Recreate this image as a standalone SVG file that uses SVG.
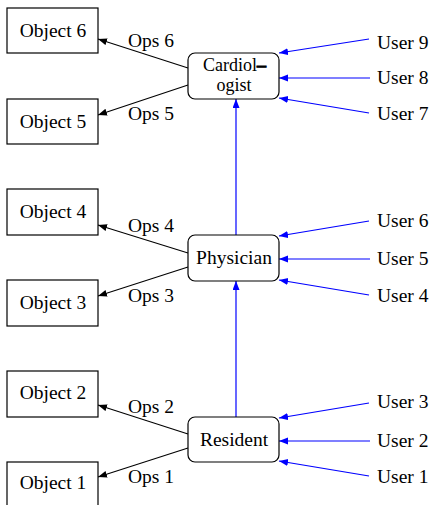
<svg xmlns="http://www.w3.org/2000/svg" width="432" height="505" viewBox="0 0 432 505">
<style>
text{font-family:"Liberation Serif","Times New Roman",serif;font-size:19.5px;fill:#000}
.obj rect{fill:#fff;stroke:#000;stroke-width:1.2}
.role rect{fill:#fff;stroke:#000;stroke-width:1.2}
.mid{text-anchor:middle}
.k{stroke:#000;stroke-width:1.1;fill:none;marker-end:url(#ak)}
.b{stroke:#0000ff;stroke-width:1.2;fill:none;marker-end:url(#ab)}
</style>
<defs>
<marker id="ak" markerUnits="userSpaceOnUse" markerWidth="10" markerHeight="8" refX="9" refY="3.5" orient="auto"><path d="M0,0 L9,3.5 L0,7 z" fill="#000"/></marker>
<marker id="ab" markerUnits="userSpaceOnUse" markerWidth="10" markerHeight="8" refX="9" refY="3.5" orient="auto"><path d="M0,0 L9,3.5 L0,7 z" fill="#0000ff"/></marker>
</defs>
<rect width="432" height="505" fill="#fff"/>
<g id="connectors">
<line class="k" x1="188" y1="68" x2="98" y2="39"/>
<line class="k" x1="188" y1="85" x2="98" y2="115"/>
<line class="k" x1="188" y1="253" x2="98" y2="225"/>
<line class="k" x1="188" y1="267" x2="98" y2="296"/>
<line class="k" x1="188" y1="434" x2="98" y2="405"/>
<line class="k" x1="188" y1="448" x2="98" y2="477"/>
<line class="b" x1="369" y1="39" x2="279" y2="53"/>
<line class="b" x1="370" y1="78" x2="279" y2="78"/>
<line class="b" x1="369" y1="113" x2="279" y2="98"/>
<line class="b" x1="369" y1="221" x2="279" y2="236"/>
<line class="b" x1="370" y1="259" x2="279" y2="259"/>
<line class="b" x1="369" y1="295" x2="279" y2="280"/>
<line class="b" x1="369" y1="403" x2="279" y2="418"/>
<line class="b" x1="370" y1="441" x2="279" y2="441"/>
<line class="b" x1="369" y1="476" x2="279" y2="461"/>
<line class="b" x1="236" y1="417" x2="236" y2="281"/>
<line class="b" x1="236" y1="235" x2="236" y2="99"/>
<text x="128" y="47">Ops 6</text>
<text x="128" y="120">Ops 5</text>
<text x="128" y="232">Ops 4</text>
<text x="128" y="302">Ops 3</text>
<text x="128" y="413">Ops 2</text>
<text x="128" y="483">Ops 1</text>
</g>
<g id="object6" class="obj"><rect x="7" y="8" width="91" height="45"/><text class="mid" x="53" y="37">Object 6</text></g>
<g id="object5" class="obj"><rect x="7" y="99" width="91" height="45"/><text class="mid" x="53" y="128">Object 5</text></g>
<g id="object4" class="obj"><rect x="7" y="189" width="91" height="46"/><text class="mid" x="53" y="218">Object 4</text></g>
<g id="object3" class="obj"><rect x="7" y="280" width="91" height="46"/><text class="mid" x="53" y="309">Object 3</text></g>
<g id="object2" class="obj"><rect x="7" y="371" width="91" height="46"/><text class="mid" x="53" y="399">Object 2</text></g>
<g id="object1" class="obj"><rect x="7" y="462" width="91" height="46"/><text class="mid" x="53" y="489">Object 1</text></g>
<g id="cardiologist" class="role"><rect x="188" y="53" width="91" height="46" rx="7"/><text style="font-size:18px"><tspan x="203" y="71">Cardiol</tspan><tspan font-weight="bold" stroke="#000" stroke-width="1">–</tspan><tspan class="mid" x="234" y="91">ogist</tspan></text></g>
<g id="physician" class="role"><rect x="188" y="235" width="91" height="46" rx="7"/><text class="mid" x="234" y="264">Physician</text></g>
<g id="resident" class="role"><rect x="188" y="417" width="91" height="45" rx="7"/><text class="mid" x="234" y="446">Resident</text></g>
<g id="user9"><text x="377" y="49">User 9</text></g>
<g id="user8"><text x="377" y="84">User 8</text></g>
<g id="user7"><text x="377" y="120">User 7</text></g>
<g id="user6"><text x="377" y="227">User 6</text></g>
<g id="user5"><text x="377" y="265">User 5</text></g>
<g id="user4"><text x="377" y="302">User 4</text></g>
<g id="user3"><text x="377" y="408">User 3</text></g>
<g id="user2"><text x="377" y="447">User 2</text></g>
<g id="user1"><text x="377" y="483">User 1</text></g>
</svg>
